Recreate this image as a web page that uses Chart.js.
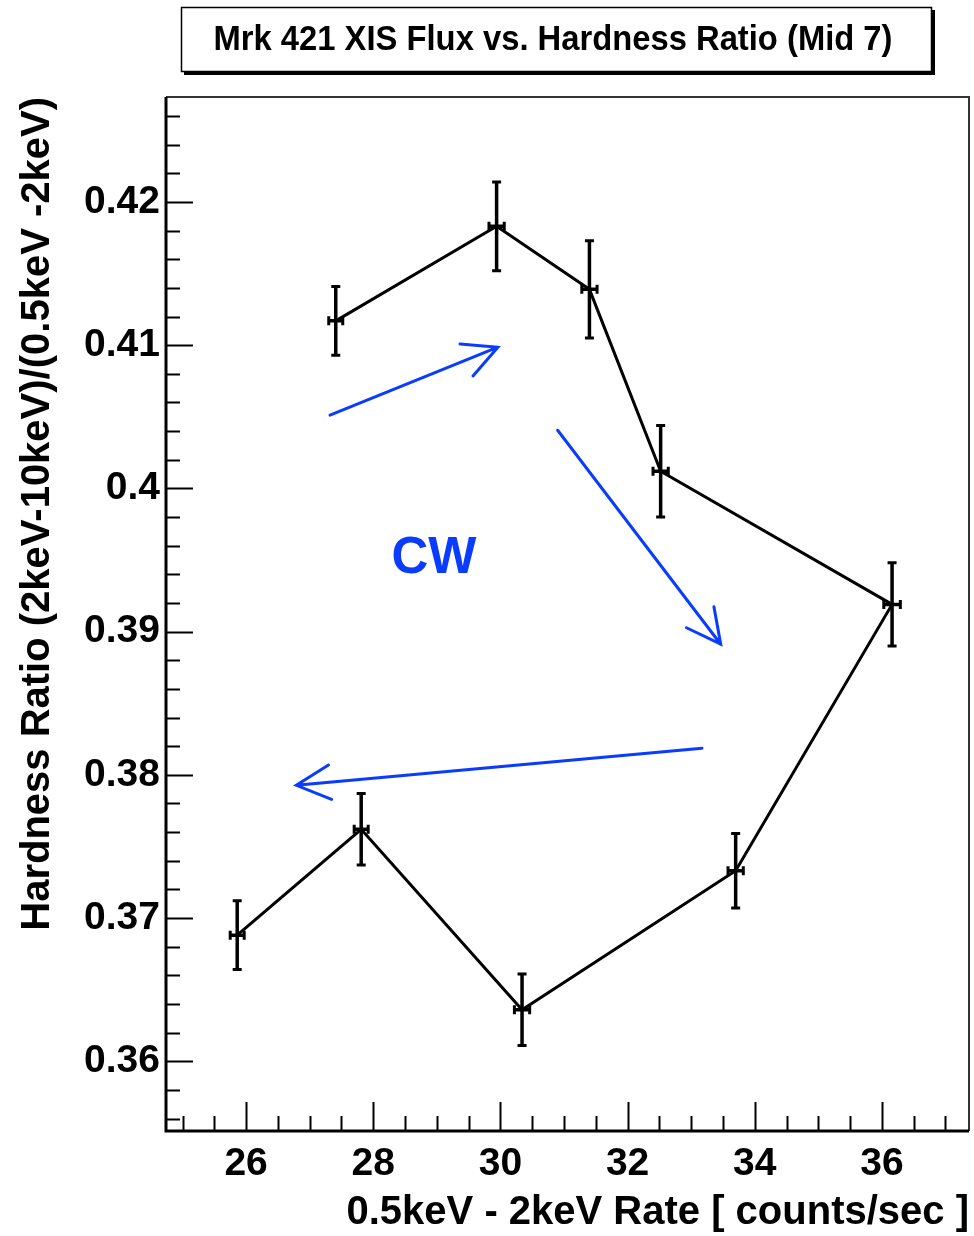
<!DOCTYPE html>
<html>
<head>
<meta charset="utf-8">
<title>Mrk 421 XIS Flux vs. Hardness Ratio (Mid 7)</title>
<script src="https://cdn.jsdelivr.net/npm/chart.js@4.4.1/dist/chart.umd.min.js"></script>
<style>
  html, body { margin: 0; padding: 0; background: #fff; }
  #wrap { width: 974px; height: 1236px; position: relative; }
</style>
</head>
<body>
<div id="wrap"><canvas id="chart"></canvas></div>
<script>
// Points in time order (clockwise loop)
const rate = [27.41, 29.94, 31.40, 32.52, 36.16, 33.70, 30.34, 27.81, 25.86];
const rateErr = [0.11, 0.12, 0.12, 0.12, 0.13, 0.12, 0.12, 0.11, 0.11];
const hardness = [0.4117, 0.4183, 0.4139, 0.4012, 0.3919, 0.3733, 0.3636, 0.3762, 0.3688];
const hardnessErr = [0.0024, 0.0031, 0.0034, 0.0032, 0.0029, 0.0026, 0.0025, 0.0025, 0.0024];

const xMajorTicks = [26, 28, 30, 32, 34, 36];
const xTickLabels = ['26', '28', '30', '32', '34', '36'];
const yMajorTicks = [0.36, 0.37, 0.38, 0.39, 0.40, 0.41, 0.42];
const yTickLabels = ['0.36', '0.37', '0.38', '0.39', '0.4', '0.41', '0.42'];
const xMinorStep = 0.5;
const yMinorStep = 0.002;
const xMin = 24.74, xMax = 37.37;
const yMin = 0.35513, yMax = 0.42733;

// Annotation arrows (data coords) and label
const arrowFrom = [[27.32, 0.40511], [30.90, 0.40406], [33.17, 0.38186]];
const arrowTo = [[29.96, 0.40986], [33.465, 0.38912], [26.79, 0.37927]];
const loopLabel = 'CW';
const loopLabelAt = [28.955, 0.39509];

const mainTitle = 'Mrk 421 XIS Flux vs. Hardness Ratio (Mid 7)';
const xTitle = '0.5keV - 2keV Rate [ counts/sec ]';
const yTitle = 'Hardness Ratio (2keV-10keV)/(0.5keV -2keV)';

const FONT = "'Liberation Sans', Arial, Helvetica, sans-serif";
const BLUE = '#0a3cff';

const errorBars = {
  id: 'errorBars',
  afterDatasetsDraw(chart) {
    const {ctx, scales: {x, y}} = chart;
    ctx.save();
    ctx.strokeStyle = '#000';
    rate.forEach((r, i) => {
      const px = x.getPixelForValue(r);
      const py = y.getPixelForValue(hardness[i]);
      const top = y.getPixelForValue(hardness[i] + hardnessErr[i]);
      const bot = y.getPixelForValue(hardness[i] - hardnessErr[i]);
      const lft = x.getPixelForValue(r - rateErr[i]);
      const rgt = x.getPixelForValue(r + rateErr[i]);
      ctx.lineWidth = 3.5;
      ctx.beginPath();
      ctx.moveTo(px, top); ctx.lineTo(px, bot);
      ctx.moveTo(lft, py); ctx.lineTo(rgt, py);
      ctx.stroke();
      ctx.lineWidth = 3;
      ctx.beginPath();
      ctx.moveTo(px - 4.5, top); ctx.lineTo(px + 4.5, top);
      ctx.moveTo(px - 4.5, bot); ctx.lineTo(px + 4.5, bot);
      ctx.moveTo(lft, py - 4.5); ctx.lineTo(lft, py + 4.5);
      ctx.moveTo(rgt, py - 4.5); ctx.lineTo(rgt, py + 4.5);
      ctx.stroke();
    });
    ctx.restore();
  }
};

const annotations = {
  id: 'annotations',
  afterDatasetsDraw(chart) {
    const {ctx, scales: {x, y}} = chart;
    ctx.save();
    ctx.strokeStyle = BLUE;
    ctx.lineWidth = 3;
    ctx.lineCap = 'round';
    arrowFrom.forEach((f, i) => {
      const x0 = x.getPixelForValue(f[0]), y0 = y.getPixelForValue(f[1]);
      const x1 = x.getPixelForValue(arrowTo[i][0]), y1 = y.getPixelForValue(arrowTo[i][1]);
      const ang = Math.atan2(y0 - y1, x0 - x1);
      const len = 38, spread = 27 * Math.PI / 180;
      ctx.beginPath();
      ctx.moveTo(x0, y0); ctx.lineTo(x1, y1);
      ctx.moveTo(x1 + len * Math.cos(ang + spread), y1 + len * Math.sin(ang + spread));
      ctx.lineTo(x1, y1);
      ctx.lineTo(x1 + len * Math.cos(ang - spread), y1 + len * Math.sin(ang - spread));
      ctx.stroke();
    });
    ctx.fillStyle = BLUE;
    ctx.font = 'bold 51px ' + FONT;
    ctx.textAlign = 'center';
    ctx.textBaseline = 'middle';
    ctx.fillText(loopLabel, x.getPixelForValue(loopLabelAt[0]), y.getPixelForValue(loopLabelAt[1]));
    ctx.restore();
  }
};

const frame = {
  id: 'frame',
  afterDraw(chart) {
    const {ctx, chartArea: a, scales: {x, y}} = chart;
    ctx.save();
    ctx.strokeStyle = '#000';
    ctx.lineWidth = 2;
    ctx.beginPath();
    for (let k = Math.ceil(xMin / xMinorStep); k * xMinorStep <= xMax; k++) {
      const v = k * xMinorStep;
      const major = xMajorTicks.some(t => Math.abs(t - v) < 1e-6);
      const px = Math.round(x.getPixelForValue(v)) + 0.5;
      ctx.moveTo(px, a.bottom);
      ctx.lineTo(px, a.bottom - (major ? 29 : 15));
    }
    for (let k = Math.ceil(yMin / yMinorStep); k * yMinorStep <= yMax; k++) {
      const v = k * yMinorStep;
      const major = yMajorTicks.some(t => Math.abs(t - v) < 1e-6);
      const py = Math.round(y.getPixelForValue(v)) + 0.5;
      ctx.moveTo(a.left, py);
      ctx.lineTo(a.left + (major ? 27 : 14), py);
    }
    ctx.stroke();
    // frame
    ctx.strokeStyle = '#333';
    ctx.lineWidth = 2;
    ctx.beginPath();
    ctx.moveTo(a.left, a.top); ctx.lineTo(a.right, a.top); ctx.lineTo(a.right, a.bottom);
    ctx.stroke();
    ctx.strokeStyle = '#000';
    ctx.lineWidth = 3;
    ctx.beginPath();
    ctx.moveTo(a.left, a.top); ctx.lineTo(a.left, a.bottom); ctx.lineTo(a.right, a.bottom);
    ctx.stroke();
    ctx.restore();
  }
};

const titleBox = {
  id: 'titleBox',
  afterDraw(chart) {
    const ctx = chart.ctx;
    ctx.save();
    ctx.fillStyle = '#000';
    ctx.fillRect(184, 10, 751, 65);
    ctx.fillStyle = '#fff';
    ctx.fillRect(181, 7, 751, 65);
    ctx.strokeStyle = '#000';
    ctx.lineWidth = 1.5;
    ctx.strokeRect(181.5, 7.5, 750, 64);
    ctx.font = 'bold 35px ' + FONT;
    const w = ctx.measureText(mainTitle).width;
    ctx.translate(553, 40);
    ctx.scale(679 / w, 1);
    ctx.fillStyle = '#000';
    ctx.textAlign = 'center';
    ctx.textBaseline = 'middle';
    ctx.fillText(mainTitle, 0, 0);
    ctx.restore();
  }
};

new Chart(document.getElementById('chart'), {
  type: 'scatter',
  data: {
    datasets: [{
      data: rate.map((r, i) => ({x: r, y: hardness[i]})),
      showLine: true,
      borderColor: '#000',
      borderWidth: 3,
      pointRadius: 0,
      tension: 0
    }]
  },
  options: {
    responsive: true,
    maintainAspectRatio: false,
    animation: false,
    layout: { padding: { top: 97, right: 5, left: 0, bottom: 0 } },
    plugins: { legend: { display: false }, tooltip: { enabled: false } },
    scales: {
      x: {
        type: 'linear', min: xMin, max: xMax,
        afterBuildTicks: s => { s.ticks = xMajorTicks.map(v => ({value: v})); },
        afterFit: s => { s.height = 105; },
        grid: { display: false, drawTicks: false },
        border: { display: false },
        ticks: {
          callback: (v, i) => xTickLabels[i],
          color: '#000', padding: 14, maxRotation: 0,
          font: { family: FONT, size: 39, weight: 'bold', lineHeight: 1 }
        },
        title: {
          display: true, text: xTitle, align: 'end', color: '#000', padding: 3,
          font: { family: FONT, size: 40, weight: 'bold', lineHeight: 1 }
        }
      },
      y: {
        type: 'linear', min: yMin, max: yMax,
        afterBuildTicks: s => { s.ticks = yMajorTicks.map(v => ({value: v})); },
        afterFit: s => { s.width = 166; },
        grid: { display: false, drawTicks: false },
        border: { display: false },
        ticks: {
          callback: (v, i) => yTickLabels[i],
          color: '#000', padding: 6,
          font: { family: FONT, size: 39, weight: 'bold', lineHeight: 1 }
        },
        title: {
          display: true, text: yTitle, align: 'end', color: '#000', padding: 18,
          font: { family: FONT, size: 40, weight: 'bold', lineHeight: 1 }
        }
      }
    }
  },
  plugins: [errorBars, annotations, frame, titleBox]
});
</script>
</body>
</html>
